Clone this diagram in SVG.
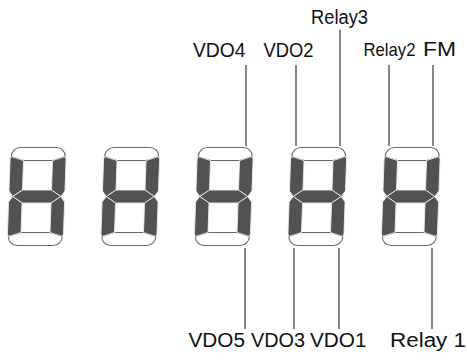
<svg xmlns="http://www.w3.org/2000/svg" width="467" height="361" viewBox="0 0 467 361">
<style>
.seg-on{fill:#525252;stroke:#ececec;stroke-width:0.9;stroke-linejoin:round}
.seg-off{fill:#fff;stroke:#666;stroke-width:1.1;stroke-linejoin:round}
.lead{stroke:#444;stroke-width:1.3;fill:none}
.lbl{font-family:"Liberation Sans",Arial,sans-serif;font-size:20px;fill:#111}
</style>
<defs>
<g id="digit">
<path class="seg-off" d="M1,9.5 A9,9 0 0 1 10,0.5 L46,0.5 A9,9 0 0 1 55,9.5 L42.5,13.5 L13.5,13.5 Z"/>
<path class="seg-off" d="M1,89.5 L13.5,85.5 L42.5,85.5 L55,89.5 A9,9 0 0 1 46,98.5 L10,98.5 A9,9 0 0 1 1,89.5 Z"/>
<path class="seg-on" d="M1,9.5 L13.5,13.5 L13.5,43 L4,49.5 L0,44 L0,12 Z"/>
<path class="seg-on" d="M55,9.5 L56,12 L56,44 L52,49.5 L42.5,43 L42.5,13.5 Z"/>
<path class="seg-on" d="M4,49.5 L13.5,43 L42.5,43 L52,49.5 L42.5,56 L13.5,56 Z"/>
<path class="seg-on" d="M4,49.5 L13.5,56 L13.5,85.5 L1,89.5 L0,87 L0,55 Z"/>
<path class="seg-on" d="M52,49.5 L56,55 L56,87 L55,89.5 L42.5,85.5 L42.5,56 Z"/>
</g>
</defs>
<g id="digit1"><use href="#digit" transform="translate(10.5,147) skewX(-2)"/></g>
<g id="digit2"><use href="#digit" transform="translate(104,147) skewX(-2)"/></g>
<g id="digit3"><use href="#digit" transform="translate(197.5,147) skewX(-2)"/></g>
<g id="digit4"><use href="#digit" transform="translate(291,147) skewX(-2)"/></g>
<g id="digit5"><use href="#digit" transform="translate(384.5,147) skewX(-2)"/></g>
<g id="connectors">
<line class="lead" x1="246" y1="65" x2="246" y2="146"/>
<line class="lead" x1="296" y1="65" x2="296" y2="146"/>
<line class="lead" x1="340" y1="30" x2="340" y2="146"/>
<line class="lead" x1="389" y1="65" x2="389" y2="146"/>
<line class="lead" x1="433" y1="65" x2="433" y2="146"/>
<line class="lead" x1="245" y1="248" x2="245" y2="329"/>
<line class="lead" x1="294" y1="248" x2="294" y2="329"/>
<line class="lead" x1="339" y1="248" x2="339" y2="329"/>
<line class="lead" x1="432" y1="248" x2="432" y2="329"/>
</g>
<g id="labels">
<text class="lbl" x="311" y="24" textLength="57" lengthAdjust="spacingAndGlyphs">Relay3</text>
<text class="lbl" x="193" y="57" textLength="52.5" lengthAdjust="spacingAndGlyphs">VDO4</text>
<text class="lbl" x="263.5" y="57" textLength="50" lengthAdjust="spacingAndGlyphs">VDO2</text>
<text class="lbl" x="363.5" y="56" style="font-size:18.5px" textLength="52" lengthAdjust="spacingAndGlyphs">Relay2</text>
<text class="lbl" x="423" y="56" textLength="33" lengthAdjust="spacingAndGlyphs">FM</text>
<text class="lbl" x="188.5" y="347" textLength="56.5" lengthAdjust="spacingAndGlyphs">VDO5</text>
<text class="lbl" x="251" y="347" textLength="54" lengthAdjust="spacingAndGlyphs">VDO3</text>
<text class="lbl" x="310" y="347" textLength="56.5" lengthAdjust="spacingAndGlyphs">VDO1</text>
<text class="lbl" x="390" y="347" textLength="76" lengthAdjust="spacingAndGlyphs">Relay 1</text>
</g>
</svg>
